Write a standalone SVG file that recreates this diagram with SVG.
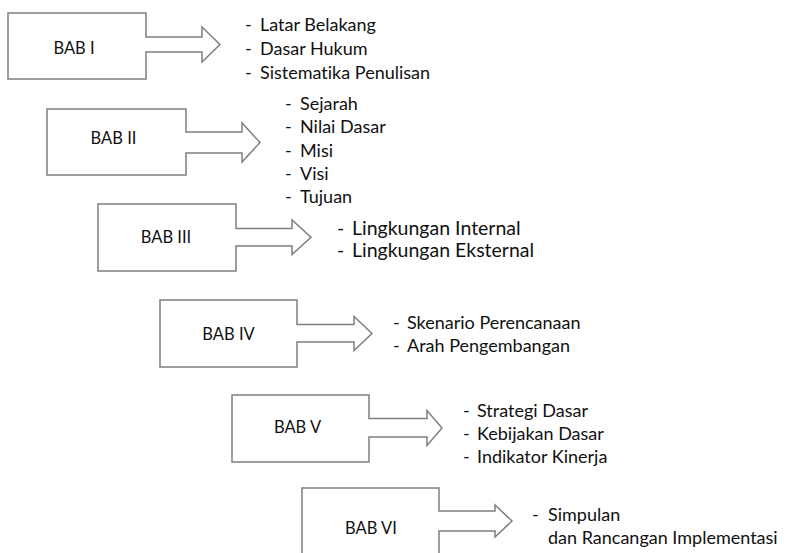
<svg xmlns="http://www.w3.org/2000/svg" width="786" height="553" viewBox="0 0 786 553">
  <style>
    .box { fill: #ffffff; stroke: #7f7f7f; stroke-width: 1.5; stroke-linejoin: miter; }
    text { font-variant-ligatures: none; }
    .lbl { font-family: Lato, "Open Sans", sans-serif; font-size: 16.5px; fill: #111111; text-anchor: middle; }
    .item { font-family: Lato, "Open Sans", sans-serif; font-size: 18px; fill: #111111; }
    .big { font-size: 19.5px; }
  </style>
  <rect width="786" height="553" fill="#ffffff"/>

  <!-- chapter boxes, each with a block arrow -->
  <g id="bab1">
    <path class="box" d="M8,13 H146 V37 H202 V27 L220,44.5 L202,62 V52 H146 V79 H8 Z"/>
    <text class="lbl" x="74" y="54">BAB I</text>
  </g>
  <g id="bab2">
    <path class="box" d="M47,109 H186 V132 H242 V123 L260,142.5 L242,162 V153 H186 V175 H47 Z"/>
    <text class="lbl" x="113.5" y="143.5">BAB II</text>
  </g>
  <g id="bab3">
    <path class="box" d="M98,204 H236 V228.5 H292 V220 L311,237.3 L292,254.5 V246 H236 V271 H98 Z"/>
    <text class="lbl" x="166" y="243">BAB III</text>
  </g>
  <g id="bab4">
    <path class="box" d="M160,300 H297 V324.5 H354 V316.5 L372,333.5 L354,350.5 V342 H297 V367 H160 Z"/>
    <text class="lbl" x="228.5" y="339.5">BAB IV</text>
  </g>
  <g id="bab5">
    <path class="box" d="M232,395 H369 V418.5 H427 V410.5 L442,428 L427,445.5 V437 H369 V462 H232 Z"/>
    <text class="lbl" x="297.5" y="433">BAB V</text>
  </g>
  <g id="bab6">
    <path class="box" d="M302,560 V488 H439 V511 H495 V505 L512,521 L495,537 V531 H439 V560"/>
    <text class="lbl" x="371" y="533.5">BAB VI</text>
  </g>

  <!-- content lists -->
  <g id="list1" class="item">
    <text y="31"><tspan x="245">-</tspan><tspan x="260">Latar Belakang</tspan></text>
    <text y="55"><tspan x="245">-</tspan><tspan x="260">Dasar Hukum</tspan></text>
    <text y="79"><tspan x="245">-</tspan><tspan x="260">Sistematika Penulisan</tspan></text>
  </g>
  <g id="list2" class="item">
    <text y="110"><tspan x="285">-</tspan><tspan x="300">Sejarah</tspan></text>
    <text y="133.3"><tspan x="285">-</tspan><tspan x="300">Nilai Dasar</tspan></text>
    <text y="156.6"><tspan x="285">-</tspan><tspan x="300">Misi</tspan></text>
    <text y="180"><tspan x="285">-</tspan><tspan x="300">Visi</tspan></text>
    <text y="203.3"><tspan x="285">-</tspan><tspan x="300">Tujuan</tspan></text>
  </g>
  <g id="list3" class="item big">
    <text y="234.5"><tspan x="337">-</tspan><tspan x="352">Lingkungan Internal</tspan></text>
    <text y="257"><tspan x="337">-</tspan><tspan x="352">Lingkungan Eksternal</tspan></text>
  </g>
  <g id="list4" class="item">
    <text y="328.5"><tspan x="393">-</tspan><tspan x="407">Skenario Perencanaan</tspan></text>
    <text y="352"><tspan x="393">-</tspan><tspan x="407">Arah Pengembangan</tspan></text>
  </g>
  <g id="list5" class="item">
    <text y="416.7"><tspan x="463">-</tspan><tspan x="477">Strategi Dasar</tspan></text>
    <text y="440"><tspan x="463">-</tspan><tspan x="477">Kebijakan Dasar</tspan></text>
    <text y="463.3"><tspan x="463">-</tspan><tspan x="477">Indikator Kinerja</tspan></text>
  </g>
  <g id="list6" class="item">
    <text y="521"><tspan x="532">-</tspan><tspan x="548">Simpulan</tspan></text>
    <text y="543.5" x="548">dan Rancangan Implementasi</text>
  </g>
</svg>
